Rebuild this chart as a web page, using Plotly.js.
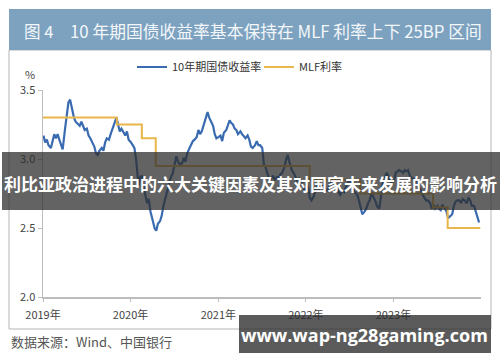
<!DOCTYPE html>
<html>
<head>
<meta charset="utf-8">
<script src="https://cdn.plot.ly/plotly-3.0.1.min.js"></script>
<style>html,body{margin:0;padding:0;background:#fff;}#chart{width:500px;height:362px;}</style>
</head>
<body>
<div id="chart"></div>
<script>
// ---- data ----
const years = [2019, 2020, 2021, 2022, 2023];
const weekDays = [3, 10, 17, 24];
const yield2019 = [
  3.17,3.12,3.14,3.10, 3.08,3.13,3.18,3.15, 3.18,3.14,3.11,3.07, 3.22,3.32,3.41,3.43,
  3.34,3.30,3.27,3.26, 3.24,3.27,3.24,3.21, 3.22,3.17,3.15,3.12, 3.09,3.04,3.03,3.06,
  3.08,3.06,3.12,3.15, 3.14,3.18,3.22,3.26, 3.30,3.25,3.20,3.22, 3.19,3.17,3.20,3.14
];
const yield2020 = [
  3.12,3.10,3.08,3.00, 2.81,2.87,2.88,2.80, 2.72,2.68,2.71,2.62, 2.55,2.50,2.48,2.53,
  2.55,2.59,2.66,2.71, 2.76,2.82,2.87,2.89, 2.96,3.02,2.98,2.96, 2.97,3.01,2.98,3.04,
  3.08,3.11,3.13,3.14, 3.16,3.21,3.18,3.20, 3.26,3.30,3.34,3.30, 3.27,3.24,3.18,3.15
];
const yield2021 = [
  3.16,3.17,3.13,3.19, 3.21,3.25,3.28,3.26, 3.25,3.22,3.21,3.18, 3.20,3.18,3.16,3.15,
  3.17,3.14,3.09,3.08, 3.10,3.13,3.10,3.10, 3.08,2.96,2.94,2.90, 2.84,2.86,2.88,2.85,
  2.87,2.86,2.89,2.90, 2.94,2.99,3.03,2.98, 2.92,2.90,2.88,2.84, 2.86,2.85,2.83,2.78
];
const yield2022 = [
  2.78,2.80,2.72,2.70, 2.73,2.78,2.80,2.78, 2.82,2.80,2.82,2.78, 2.77,2.82,2.84,2.83,
  2.81,2.80,2.76,2.74, 2.77,2.76,2.80,2.82, 2.85,2.82,2.78,2.76, 2.74,2.70,2.64,2.60,
  2.62,2.64,2.68,2.70, 2.76,2.72,2.70,2.66, 2.64,2.72,2.82,2.85, 2.90,2.88,2.84,2.83
];
const yield2023 = [
  2.84,2.90,2.91,2.92, 2.91,2.90,2.92,2.91, 2.92,2.88,2.86,2.86, 2.85,2.84,2.80,2.78,
  2.74,2.72,2.70,2.70, 2.68,2.64,2.67,2.64, 2.66,2.64,2.63,2.67, 2.64,2.62,2.57,2.58,
  2.60,2.66,2.69,2.70, 2.70,2.68,2.71,2.70, 2.68,2.72,2.70,2.66, 2.66,2.62,2.58,2.54
];
const mlfDates = ['2019-01-01','2019-11-05','2020-02-17','2020-04-15','2022-01-17','2022-08-15','2023-06-15','2023-08-15','2023-12-29'];
const mlfRates = [3.30, 3.25, 3.15, 2.95, 2.85, 2.75, 2.65, 2.50, 2.50];
const tickVals = ['2019-01-01','2020-01-01','2021-01-01','2022-01-01','2023-01-01'];
const tickText = ['2019年','2020年','2021年','2022年','2023年'];
const seriesNames = ['10年期国债收益率', 'MLF利率'];

// ---- build ----
const yieldVals = [].concat(yield2019, yield2020, yield2021, yield2022, yield2023);
const yieldDates = [];
years.forEach(y => {
  for (let m = 1; m <= 12; m++) {
    weekDays.forEach(d => yieldDates.push(y + '-' + String(m).padStart(2,'0') + '-' + String(d).padStart(2,'0')));
  }
});

const L = 43, R = 481, T = 90, B = 297;
const px = x => (x - L) / (R - L);
const py = y => (B - y) / (B - T);
const FONT = 'Noto Sans CJK SC, Noto Sans, sans-serif';

const traces = [
  {x: yieldDates, y: yieldVals, type: 'scatter', mode: 'lines', name: seriesNames[0],
   line: {color: '#3a6bb0', width: 2.2}},
  {x: mlfDates, y: mlfRates, type: 'scatter', mode: 'lines', name: seriesNames[1],
   line: {color: '#e8b64b', width: 2, shape: 'hv'}}
];

const layout = {
  width: 500, height: 362,
  margin: {l: L, r: 500 - R, t: T, b: 362 - B},
  paper_bgcolor: '#fff', plot_bgcolor: '#fff',
  font: {family: FONT, color: '#444', size: 11},
  showlegend: true,
  legend: {orientation: 'h', x: px(132), xanchor: 'left', y: py(67), yanchor: 'middle',
    font: {size: 11, color: '#333', family: FONT}, bgcolor: 'rgba(0,0,0,0)',
    itemwidth: 30, entrywidth: 82, entrywidthmode: 'pixels'},
  xaxis: {type: 'date', range: ['2019-01-01', '2024-01-01'], tickvals: tickVals, ticktext: tickText,
    showgrid: false, zeroline: false, showline: true, linecolor: '#bdbdbd', linewidth: 1.5,
    ticks: 'outside', ticklen: 3, tickcolor: '#bdbdbd', ticklabelstandoff: 4,
    tickfont: {size: 11, color: '#444', family: FONT}, fixedrange: true},
  yaxis: {range: [2.0, 3.5], tickvals: [2.0, 2.5, 3.0, 3.5], tickformat: '.1f',
    showgrid: false, zeroline: false, showline: true, linecolor: '#bdbdbd', linewidth: 1.5,
    ticks: 'outside', ticklen: 4, tickcolor: '#bdbdbd',
    tickfont: {size: 11, color: '#444', family: FONT}, fixedrange: true},
  shapes: [
    {type: 'rect', xref: 'paper', yref: 'paper', x0: px(9), x1: px(491), y0: py(50), y1: py(329),
     line: {color: '#b5b5b5', width: 1}, fillcolor: 'rgba(0,0,0,0)', layer: 'below'},
    {type: 'rect', xref: 'paper', yref: 'paper', x0: px(9), x1: px(491), y0: py(9), y1: py(50),
     line: {width: 0}, fillcolor: '#7ca2c0', layer: 'below'},
    {type: 'rect', xref: 'paper', yref: 'paper', x0: px(2), x1: px(500), y0: py(152), y1: py(210),
     line: {width: 0}, fillcolor: 'rgba(45,45,45,0.74)', layer: 'above'},
    {type: 'rect', xref: 'paper', yref: 'paper', x0: px(239), x1: px(491), y0: py(315), y1: py(353),
     line: {width: 0}, fillcolor: 'rgba(45,45,45,0.78)', layer: 'above'}
  ],
  annotations: [
    {text: '图 4', xref: 'paper', yref: 'paper', x: px(22), y: py(31), xanchor: 'left', yanchor: 'middle',
     showarrow: false, font: {size: 16.5, color: '#f4f7fa', family: FONT}},
    {text: '10 年期国债收益率基本保持在 MLF 利率上下 25BP 区间', xref: 'paper', yref: 'paper',
     x: px(68), y: py(31), xanchor: 'left', yanchor: 'middle',
     showarrow: false, font: {size: 16.8, color: '#f4f7fa', family: FONT}},
    {text: '%', xref: 'paper', yref: 'paper', x: px(30), y: py(74), xanchor: 'center', yanchor: 'middle',
     showarrow: false, font: {size: 11, color: '#444', family: FONT}},
    {text: '数据来源：Wind、中国银行', xref: 'paper', yref: 'paper', x: px(9), y: py(341),
     xanchor: 'left', yanchor: 'middle', showarrow: false, font: {size: 13, color: '#555', family: FONT}},
    {text: '<b>利比亚政治进程中的六大关键因素及其对国家未来发展的影响分析</b>', xref: 'paper', yref: 'paper',
     x: px(250), y: py(183), xanchor: 'center', yanchor: 'middle', showarrow: false,
     font: {size: 17, color: '#ffffff', family: FONT}},
    {text: '<b>www.wap-ng28gaming.com</b>', xref: 'paper', yref: 'paper',
     x: px(364), y: py(335), xanchor: 'center', yanchor: 'middle', showarrow: false,
     font: {size: 18, color: '#ffffff', family: 'Open Sans, Noto Sans, sans-serif'}}
  ]
};

Plotly.newPlot('chart', traces, layout, {displayModeBar: false, staticPlot: true});
</script>
</body>
</html>
